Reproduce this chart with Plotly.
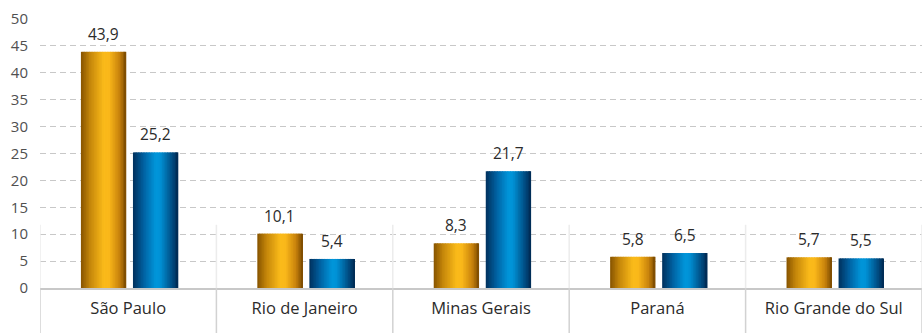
import plotly.graph_objects as go

# Data
estados = ["São Paulo", "Rio de Janeiro", "Minas Gerais", "Paraná", "Rio Grande do Sul"]
serie_a = [43.9, 10.1, 8.3, 5.8, 5.7]
serie_b = [25.2, 5.4, 21.7, 6.5, 5.5]
y_ticks = [0, 5, 10, 15, 20, 25, 30, 35, 40, 45, 50]

FONT = "Open Sans"

# Horizontal gradient profiles for the cylinder-like bars (position, rgb)
gold_stops = [(0.0, (134, 84, 0)), (0.2, (196, 134, 10)), (0.5, (250, 186, 26)),
              (0.62, (250, 184, 26)), (0.85, (200, 130, 12)), (1.0, (120, 72, 0))]
blue_stops = [(0.0, (0, 48, 92)), (0.25, (0, 100, 165)), (0.5, (0, 150, 218)),
              (0.6, (0, 146, 214)), (0.85, (0, 80, 135)), (1.0, (0, 40, 80))]


def interp(stops, t):
    for (p0, c0), (p1, c1) in zip(stops[:-1], stops[1:]):
        if p0 <= t <= p1:
            f = (t - p0) / (p1 - p0) if p1 > p0 else 0
            c = [round(a + (b - a) * f) for a, b in zip(c0, c1)]
            return f"rgb({c[0]},{c[1]},{c[2]})"
    c = stops[-1][1]
    return f"rgb({c[0]},{c[1]},{c[2]})"


def fmt(v):
    return f"{v:.1f}".replace(".", ",")


fig = go.Figure()

N = 28
BAR_W = 0.257
series = [(serie_a, gold_stops, -0.268), (serie_b, blue_stops, 0.027)]
annotations = []
for vals, stops, off in series:
    step = BAR_W / N
    for k in range(N):
        t = (k + 0.5) / N
        w = step if k == N - 1 else step * 1.6
        fig.add_trace(go.Bar(
            x=estados, y=vals,
            offset=off + k * step, width=w,
            marker=dict(color=interp(stops, t), line=dict(width=0)),
            hoverinfo="skip",
            showlegend=False,
        ))
    # value labels above each bar
    for i, v in enumerate(vals):
        annotations.append(dict(
            x=i + off + BAR_W / 2, y=v, xref="x", yref="y",
            text=fmt(v), showarrow=False, yanchor="bottom", yshift=5,
            font=dict(family=FONT, size=15.5, color="#2b2b2b"),
        ))

# Category separators below (and slightly above) the baseline
shapes = []
for i in range(len(estados) + 1):
    xpos = i - 0.5
    shapes.append(dict(type="line", xref="x", yref="paper", x0=xpos, x1=xpos,
                       y0=-0.17, y1=0.0, line=dict(color="#d2d2d2", width=1.5)))
    shapes.append(dict(type="line", xref="x", yref="paper", x0=xpos, x1=xpos,
                       y0=0.0, y1=0.235, line=dict(color="#ececec", width=1.5)))

fig.update_layout(
    width=922, height=333,
    margin=dict(l=40, r=0, t=19, b=45),
    paper_bgcolor="white", plot_bgcolor="white",
    barmode="overlay",
    shapes=shapes,
    annotations=annotations,
    font=dict(family=FONT, size=15, color="#333333"),
    xaxis=dict(
        range=[-0.5, 4.5], showgrid=False, zeroline=False,
        showline=True, linecolor="#c8c8c8", linewidth=2,
        ticks="outside", ticklen=4, tickcolor="rgba(0,0,0,0)",
        tickfont=dict(family=FONT, size=16.5, color="#2b2b2b"),
        fixedrange=True,
    ),
    yaxis=dict(
        range=[0, 50], tickvals=y_ticks, showgrid=True,
        gridcolor="#c8c8c8", gridwidth=1, griddash="6px,4px",
        zeroline=False, showline=False,
        ticks="outside", ticklen=8, tickcolor="rgba(0,0,0,0)",
        tickfont=dict(family=FONT, size=15, color="#505050"),
        fixedrange=True,
    ),
)

fig.write_html("out.html")
